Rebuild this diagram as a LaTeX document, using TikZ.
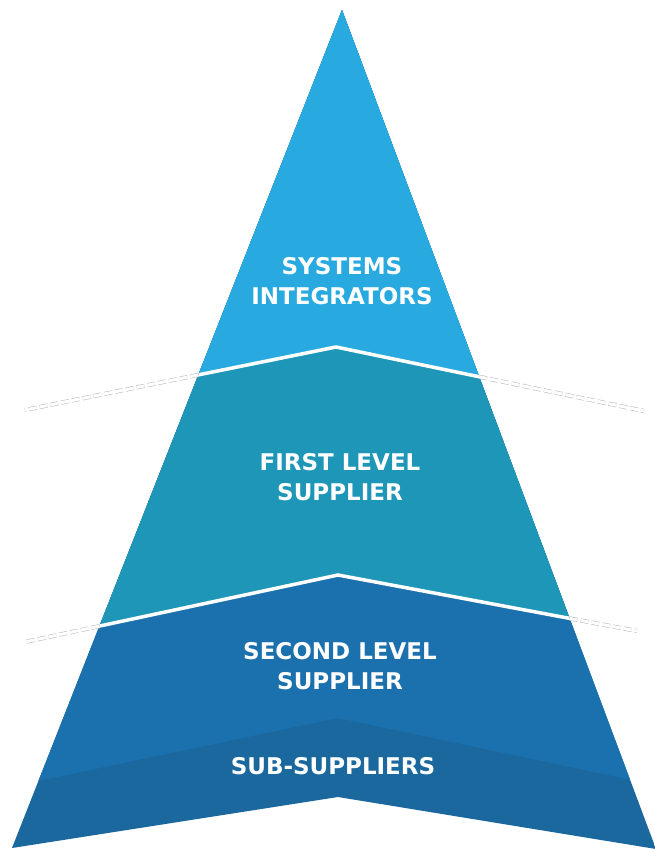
\documentclass[tikz,border=0pt]{standalone}
\usepackage{fontspec}
\usepackage{xcolor}

\newfontfamily\tierfont{DejaVu Sans}

\definecolor{tierOne}{HTML}{28AAE1}
\definecolor{tierTwo}{HTML}{1D96B7}
\definecolor{tierThree}{HTML}{1B70AE}
\definecolor{tierFour}{HTML}{1A689D}

\begin{document}
\begin{tikzpicture}[
        x = 1pt,
        y = -1pt,
        tier text/.style = {text = white, align = center,
            font = \tierfont\bfseries\fontsize{23}{30}\selectfont},
        divider/.style = {draw = white, line width = 3.5pt},
        guide/.style = {draw = black!25, dash pattern = on 8pt off 3pt,
            double = white, double distance = 3pt, line width = 0.6pt}]

        \useasboundingbox (0,0) rectangle (654,849);

        % ANCHORS
        % outline
        \coordinate (apex) at (342,10);
        \coordinate (base_left) at (12,848);
        \coordinate (base_right) at (656,849);
        \coordinate (notch) at (338,797);

        % level lines
        \coordinate (peak_one) at (336,347);
        \coordinate (end_one_left) at (25,410);
        \coordinate (end_one_right) at (644,411);
        \coordinate (peak_two) at (338,575);
        \coordinate (end_two_left) at (25,642);
        \coordinate (end_two_right) at (637,631);
        \coordinate (peak_sub) at (338,718);

        \coordinate (edge_one_left) at (intersection of apex--base_left and peak_one--end_one_left);
        \coordinate (edge_one_right) at (intersection of apex--base_right and peak_one--end_one_right);
        \coordinate (edge_two_left) at (intersection of apex--base_left and peak_two--end_two_left);
        \coordinate (edge_two_right) at (intersection of apex--base_right and peak_two--end_two_right);

        % BANDS
        \begin{scope}
            \clip (apex) -- (base_left) -- (notch) -- (base_right) -- cycle;
            \fill[tierFour] (0,0) rectangle (660,849);
            \fill[tierThree] (0,0) -- (660,0) -- (660,786) -- (peak_sub) -- (0,789) -- cycle;
            \fill[tierTwo] (0,0) -- (660,0) -- (end_two_right) -- (peak_two) -- (end_two_left) -- cycle;
            \fill[tierOne] (0,0) -- (660,0) -- (end_one_right) -- (peak_one) -- (end_one_left) -- cycle;
            \draw[divider] (end_one_left) -- (peak_one) -- (end_one_right);
            \draw[divider] (end_two_left) -- (peak_two) -- (end_two_right);
        \end{scope}

        % GUIDES
        \draw[guide] (edge_one_left) -- (end_one_left);
        \draw[guide] (edge_one_right) -- (end_one_right);
        \draw[guide] (edge_two_left) -- (end_two_left);
        \draw[guide] (edge_two_right) -- (end_two_right);

        % LABELS
        \node[tier text] (systems_label) at (342,281) {SYSTEMS\\INTEGRATORS};
        \node[tier text] (first_label) at (340,477) {FIRST LEVEL\\SUPPLIER};
        \node[tier text] (second_label) at (340,666) {SECOND LEVEL\\SUPPLIER};
        \node[tier text] (sub_label) at (333,766) {SUB-SUPPLIERS};
\end{tikzpicture}
\end{document}
